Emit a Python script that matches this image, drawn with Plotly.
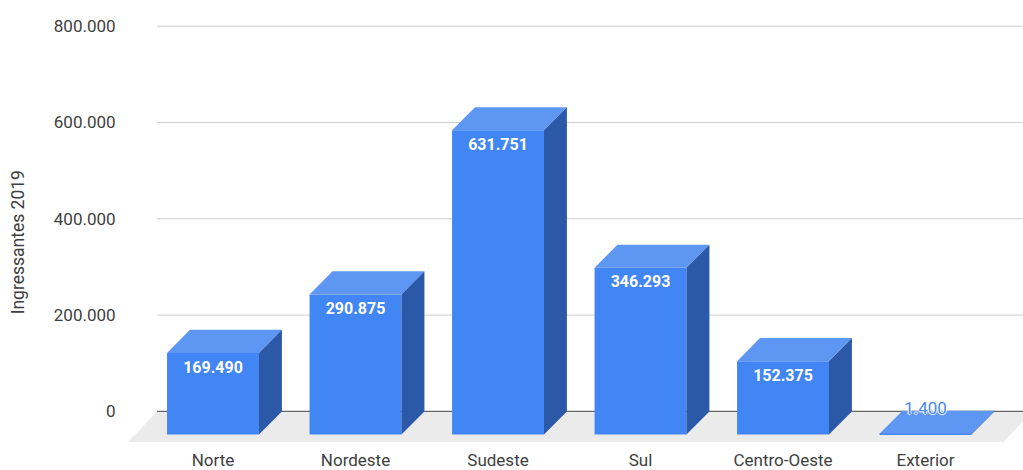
import plotly.graph_objects as go

# Ingressantes 2019 por região
categories = ["Norte", "Nordeste", "Sudeste", "Sul", "Centro-Oeste", "Exterior"]
values = [169490, 290875, 631751, 346293, 152375, 1400]
y_ticks = [0, 200000, 400000, 600000, 800000]

# colours of the three visible faces of each box
FRONT = "#4285f4"
TOP = "#5e96f4"
SIDE = "#2c58a8"
FLOOR = "#ebebeb"
GRID = "#cfcfcf"
AXIS = "#666666"
TEXT = "#404040"
FONT = "Roboto"

# box geometry (category units / value units)
BAR_W = 0.645          # width of the front face
DX, DY = 0.161, 48000  # depth offset of the back face
FLOOR_DX, FLOOR_DY = 0.2035, 63600
X_RANGE = [-0.5965, 5.684]
Y_RANGE = [-67750, 821200]
GRID_X0, GRID_X1 = -0.393, 5.75

n = len(categories)
idx = list(range(n))

fig = go.Figure()

# front faces
fig.add_trace(go.Bar(
    x=idx, y=values, base=[-DY] * n, width=BAR_W,
    marker=dict(color=FRONT, line=dict(width=0)),
    hoverinfo="skip", showlegend=False,
))

# top and side faces as filled polygons
top_x, top_y, side_x, side_y = [], [], [], []
for i, v in zip(idx, values):
    l, r = i - BAR_W / 2, i + BAR_W / 2
    top_x += [l, r, r + DX, l + DX, l, None]
    top_y += [v - DY, v - DY, v, v, v - DY, None]
    side_x += [r, r, r + DX, r + DX, r, None]
    side_y += [-DY, v - DY, v, 0, -DY, None]

fig.add_trace(go.Scatter(
    x=top_x, y=top_y, mode="lines", fill="toself", fillcolor=TOP,
    line=dict(width=0, color=TOP), hoverinfo="skip", showlegend=False,
))
fig.add_trace(go.Scatter(
    x=side_x, y=side_y, mode="lines", fill="toself", fillcolor=SIDE,
    line=dict(width=0, color=SIDE), hoverinfo="skip", showlegend=False,
))

# value labels: inside near the top of the front face, above tiny boxes
LABEL_DROP = 32500
labels = [f"{v:,}".replace(",", ".") for v in values]
inside = [v > 60000 for v in values]
fig.add_trace(go.Scatter(
    x=[i for i, k in zip(idx, inside) if k],
    y=[v - DY - LABEL_DROP for v, k in zip(values, inside) if k],
    text=[t for t, k in zip(labels, inside) if k],
    mode="text", textposition="middle center",
    textfont=dict(family=FONT, size=16, color="white", weight="bold"),
    hoverinfo="skip", showlegend=False, cliponaxis=False,
))
fig.add_trace(go.Scatter(
    x=[i for i, k in zip(idx, inside) if not k],
    y=[v + 3000 for v, k in zip(values, inside) if not k],
    text=[t for t, k in zip(labels, inside) if not k],
    mode="text", textposition="middle center",
    textfont=dict(family=FONT, size=17, color="#4a88f0",
                  shadow="1px 0 1px #fff, -1px 0 1px #fff, 0 1px 1px #fff, 0 -1px 1px #fff"),
    hoverinfo="skip", showlegend=False, cliponaxis=False,
))

shapes = []
# floor
shapes.append(dict(
    type="path", xref="x", yref="y", layer="below",
    path=(f"M {GRID_X0},0 L {GRID_X1},0 L {GRID_X1 - FLOOR_DX},{-FLOOR_DY} "
          f"L {GRID_X0 - FLOOR_DX},{-FLOOR_DY} Z"),
    fillcolor=FLOOR, line=dict(width=0),
))
# gridlines on the back wall
for t in y_ticks:
    shapes.append(dict(
        type="line", xref="x", yref="y", layer="below",
        x0=GRID_X0, x1=GRID_X1, y0=t, y1=t,
        line=dict(color=AXIS if t == 0 else GRID, width=1.3 if t == 0 else 1),
    ))

fig.update_layout(
    width=1023, height=470,
    margin=dict(l=128, r=0, t=16, b=21),
    paper_bgcolor="white", plot_bgcolor="white",
    separators=",.",
    barmode="overlay",
    shapes=shapes,
    font=dict(family=FONT, size=17, color=TEXT),
    xaxis=dict(
        range=X_RANGE, tickvals=idx, ticktext=categories,
        showgrid=False, zeroline=False, showline=False,
        ticks="outside", ticklen=1, tickcolor="rgba(0,0,0,0)",
        tickfont=dict(family=FONT, size=17, color=TEXT),
        fixedrange=True,
    ),
    yaxis=dict(
        range=Y_RANGE, tickvals=y_ticks, tickformat=",.0f",
        showgrid=False, zeroline=False, showline=False,
        ticks="outside", ticklen=8, tickcolor="rgba(0,0,0,0)",
        tickfont=dict(family=FONT, size=17, color=TEXT),
        fixedrange=True,
    ),
    annotations=[dict(
        text="Ingressantes 2019", textangle=-90,
        xref="paper", yref="paper", x=-0.123, y=0.471,
        xanchor="center", yanchor="middle", showarrow=False,
        font=dict(family=FONT, size=17.5, color=TEXT),
    )],
)

fig.write_html("out.html")
